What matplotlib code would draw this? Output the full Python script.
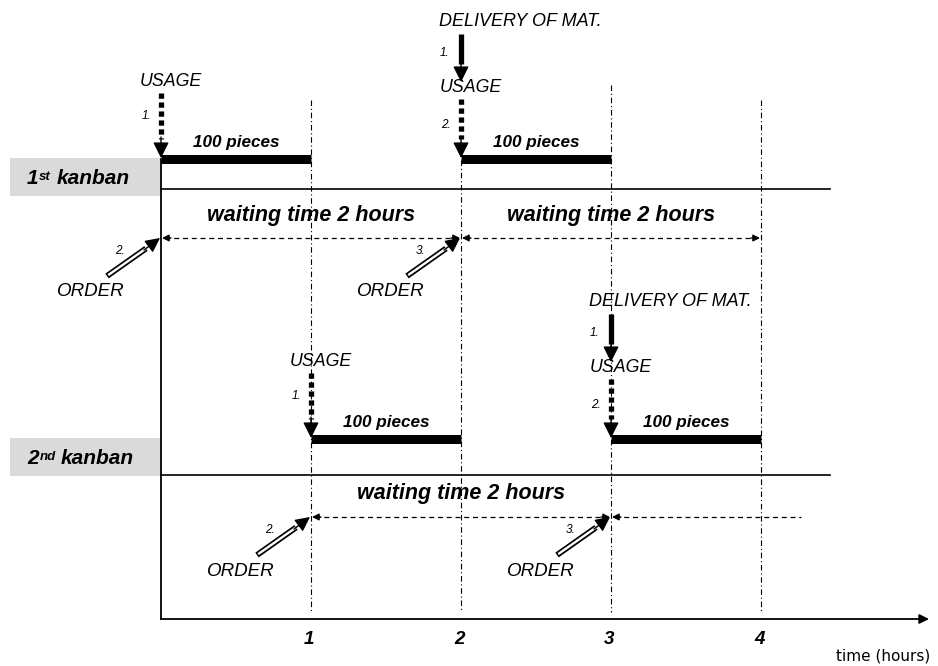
import matplotlib.pyplot as plt
from matplotlib.patches import Rectangle

# time axis in hours; vertical positions are row levels of the diagram (top = 0)
tick_hours = [1, 2, 3, 4]
kanbans = ["1", "2"]
kanban_sup = ["st", "nd"]
bar_row = [159, 439]          # row of the "100 pieces" bars
lane_row = [189, 475]         # separating line of each kanban
wait_row = [238, 517]         # waiting time arrows
usage_start = [[0, 2], [1, 3]]
use_hours = 1
delivery = [[2], [3]]
order_at = [[0, 2], [1, 3]]
order_num = [["2.", "3."], ["2.", "3."]]
wait_hours = 2
pieces = "100 pieces"
guide_top = {1: 100, 2: 160, 3: 85, 4: 100}

PX = 1 / 150.0   # one pixel in hours
F = "Liberation Sans"

fig = plt.figure(figsize=(9.38, 6.66), dpi=100)
ax = fig.add_axes([0, 0, 1, 1])
ax.set_xlim(-161 * PX, (938 - 161) * PX)
ax.set_ylim(666, 0)
ax.axis("off")

bi = dict(family=F, fontweight="bold", fontstyle="italic")
it = dict(family=F, fontstyle="italic")


def head(x0, y0, x1, y1, ms=16, lw=1):
    ax.annotate("", xy=(x1, y1), xytext=(x0, y0),
                arrowprops=dict(arrowstyle="-|>", color="black", lw=lw,
                                mutation_scale=ms, shrinkA=0, shrinkB=0))


# axes
ax.plot([0, 0], [159, 619], color="black", lw=1.3)
head(0, 619, 5.12, 619, ms=14, lw=1.3)
for h in tick_hours:
    ax.plot([h, h], [guide_top[h], 612], color="black", lw=0.8,
            linestyle=(0, (5, 2.5, 1, 2.5)))
    ax.text(h - 2 * PX, 640, str(h), ha="center", va="center", fontsize=13.5, **bi)
ax.text(930 * PX - 161 * PX, 656, "time (hours)", ha="right", va="center",
        fontsize=11, family="DejaVu Sans")

for k in range(len(kanbans)):
    # label box and lane line
    ax.add_patch(Rectangle((-151 * PX, bar_row[k] - 1), 151 * PX, 38,
                           facecolor="#dadada", edgecolor="none"))
    ym = bar_row[k] + 19
    num = ax.text(-134 * PX, ym + 1, kanbans[k], ha="left", va="center",
                  fontsize=15, **bi)
    sup = ax.annotate(kanban_sup[k], xy=(1, 1), xycoords=num,
                      xytext=(0.5, -1), textcoords="offset points",
                      ha="left", va="top", fontsize=9.5, **bi)
    ax.annotate("kanban", xy=(1, 0), xycoords=(sup, num),
                xytext=(4, 0), textcoords="offset points",
                ha="left", va="bottom", fontsize=15, **bi)
    ax.plot([0, 669 * PX], [lane_row[k], lane_row[k]], color="black", lw=1.2)

    # usage bars with dotted usage arrows
    for s in usage_start[k]:
        yb = bar_row[k]
        ax.plot([s, s + use_hours], [yb, yb], color="black", lw=6.5,
                solid_capstyle="butt")
        ax.text(s + use_hours / 2, yb - 16, pieces, ha="center", va="center",
                fontsize=12.3, **bi)
        delivered = s in delivery[k]
        top = yb - (60 if delivered else 66)
        ax.plot([s, s], [top, yb - 20], color="black", lw=3.8,
                linestyle=(0, (1, 0.7)))
        head(s, yb - 22, s, yb - 1, ms=24)
        ax.text(s - 10 * PX, yb - (34 if delivered else 43),
                "2." if delivered else "1.", ha="right", va="center", fontsize=8.5, **it)
        ax.text(s - 21 * PX, top - 12, "USAGE", ha="left", va="center",
                fontsize=12.8, **it)
        if delivered:
            ax.plot([s, s], [yb - 125, yb - 95], color="black", lw=3.8,
                    solid_capstyle="butt")
            head(s, yb - 97, s, yb - 77, ms=24)
            ax.text(s - 12 * PX, yb - 106, "1.", ha="right", va="center",
                    fontsize=8.5, **it)
            ax.text(s - 22 * PX, yb - 138, "DELIVERY OF MAT.", ha="left",
                    va="center", fontsize=13, **it)

    # waiting time dashed arrows
    yw = wait_row[k]
    for o in order_at[k]:
        end = o + wait_hours
        last = end > tick_hours[-1]
        if last:
            end = 4.27
        ax.plot([o + 4 * PX, end - (0 if last else 4 * PX)], [yw, yw],
                color="black", lw=0.9, linestyle=(0, (4, 3)))
        head(o + 10 * PX, yw, o + 1 * PX, yw, ms=10)
        if not last:
            head(end - 10 * PX, yw, end - 1 * PX, yw, ms=10)
            ax.text(o + 1, yw - 23, "waiting time 2 hours", ha="center",
                    va="center", fontsize=15.5, **bi)

    # order arrows (hollow double line shaft)
    for o, n in zip(order_at[k], order_num[k]):
        x0, y0 = o - 54 * PX, yw + 38
        x1, y1 = o - 1 * PX, yw
        xs, ys = o - 15 * PX, yw + 10.5
        ax.plot([x0, xs], [y0, ys], color="black", lw=4.2,
                solid_capstyle="butt")
        ax.plot([x0 + 1.2 * PX, xs], [y0 - 0.9, ys], color="white",
                lw=1.7, solid_capstyle="butt")
        head(o - 17 * PX, yw + 12, x1, y1, ms=22)
        ax.text(o - 36 * PX, yw + 13, n, ha="right", va="center", fontsize=8.5, **it)
        ax.text(o - 70 * PX, yw + 54, "ORDER", ha="center", va="center",
                fontsize=13.5, **it)

fig.savefig("out.png", dpi=100, facecolor="white")
